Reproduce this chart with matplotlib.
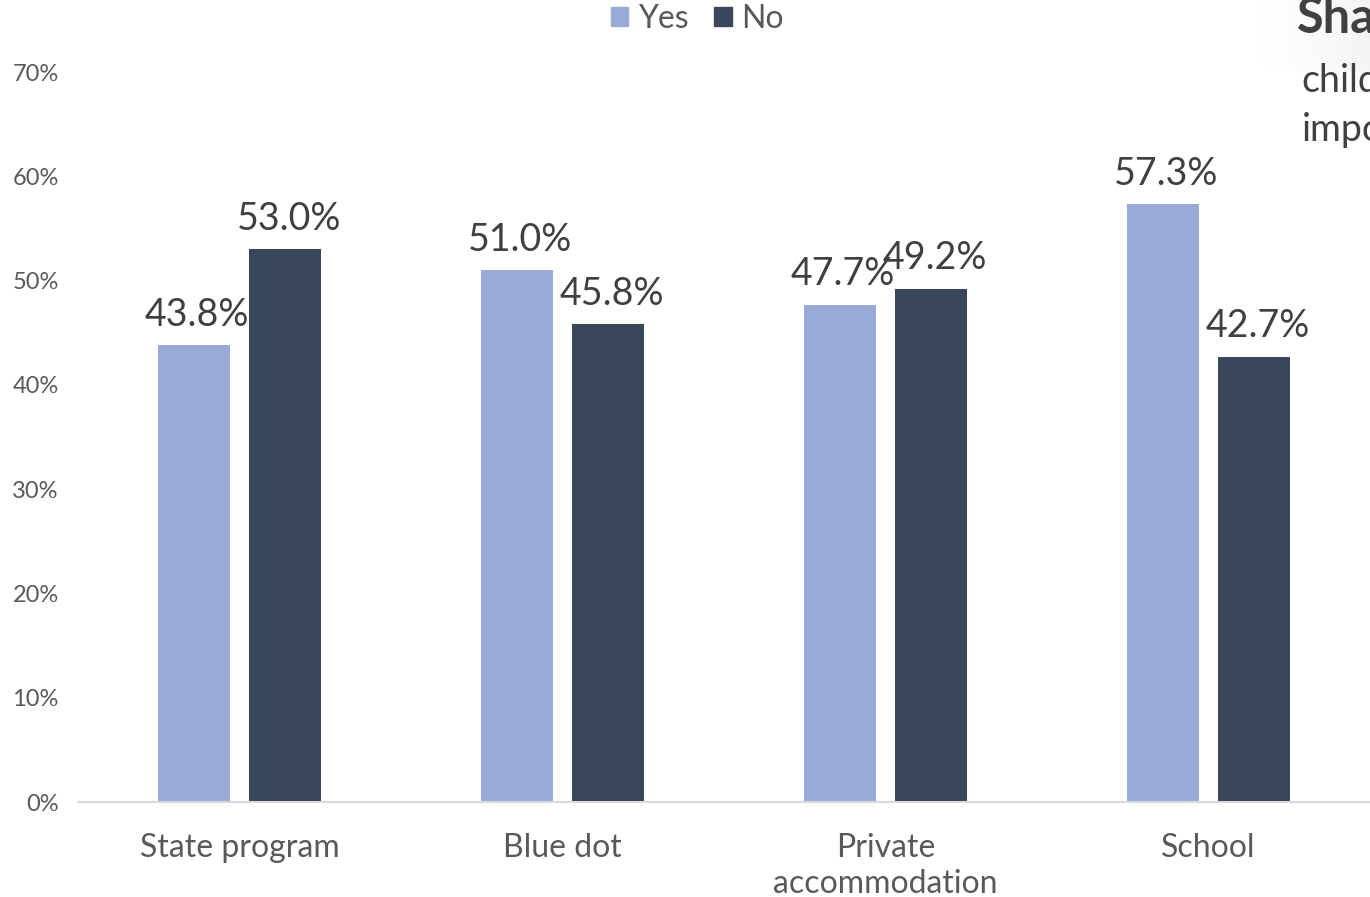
import numpy as np
import matplotlib.pyplot as plt
from matplotlib.patches import Patch

plt.rcParams['font.family'] = ['Lato', 'DejaVu Sans']

# data
categories = ["State program", "Blue dot", "Private\naccommodation", "School"]
yes_vals = [43.8, 51.0, 47.7, 57.3]
no_vals = [53.0, 45.8, 49.2, 42.7]
yticks = [0, 10, 20, 30, 40, 50, 60, 70]

yes_color = "#9aaad6"
no_color = "#3a4659"

fig = plt.figure(figsize=(13.7, 8.97), dpi=100)

# faint shadowed panel at the top right
grad_ax = fig.add_axes([0.91, 0.78, 0.09, 0.22])
gx = np.linspace(0, 1, 120)
gy = np.linspace(0, 1, 120)
GX, GY = np.meshgrid(gx, gy)
shade = np.clip(GX, 0, 1) ** 1.5 * np.clip(GY * 1.3, 0, 1)
grad_ax.imshow(shade, cmap="Greys", vmin=0, vmax=10, aspect="auto",
               extent=[0, 1, 0, 1], origin="lower")
grad_ax.axis("off")

ax = fig.add_axes([0.057, 0.1059, 0.943, 0.8138])
x = np.arange(len(categories))
w = 0.223
off = 0.142
b1 = ax.bar(x - off, yes_vals, w, color=yes_color, label="Yes")
b2 = ax.bar(x + off, no_vals, w, color=no_color, label="No")

for bars, vals in [(b1, yes_vals), (b2, no_vals)]:
    for r, v in zip(bars, vals):
        ax.text(r.get_x() + r.get_width() / 2 + 0.01, v + 1.2, f"{v:.1f}%",
                ha="center", va="bottom", fontsize=27, color="#404040")

ax.set_xlim(-0.5, 3.5)
ax.set_ylim(0, 70)
ax.set_yticks(yticks)
ax.set_yticklabels([f"{t}%" for t in yticks])
ax.set_xticks(x)
ax.set_xticklabels(categories, fontsize=23, color="#595959", linespacing=1.25)
ax.tick_params(axis="y", labelsize=17, labelcolor="#595959", length=0, pad=14)
ax.tick_params(axis="x", length=0, pad=22)
for s in ["top", "right", "left"]:
    ax.spines[s].set_visible(False)
ax.spines["bottom"].set_color("#d9d9d9")
ax.spines["bottom"].set_linewidth(1.5)

handles = [Patch(color=yes_color), Patch(color=no_color)]
fig.legend(handles, ["Yes", "No"], loc="center", bbox_to_anchor=(0.509, 0.979),
           ncol=2, frameon=False, fontsize=23, handlelength=0.55, handleheight=0.55,
           handletextpad=0.3, columnspacing=0.8, labelcolor="#595959")

# cut-off title block on the right
fig.text(0.947, 0.963, "Share", fontsize=35, fontweight="bold", color="#404040", va="baseline")
fig.text(0.950, 0.897, "children", fontsize=27, color="#404040", va="baseline")
fig.text(0.950, 0.843, "important", fontsize=27, color="#404040", va="baseline")

fig.savefig("out.png", dpi=100)
